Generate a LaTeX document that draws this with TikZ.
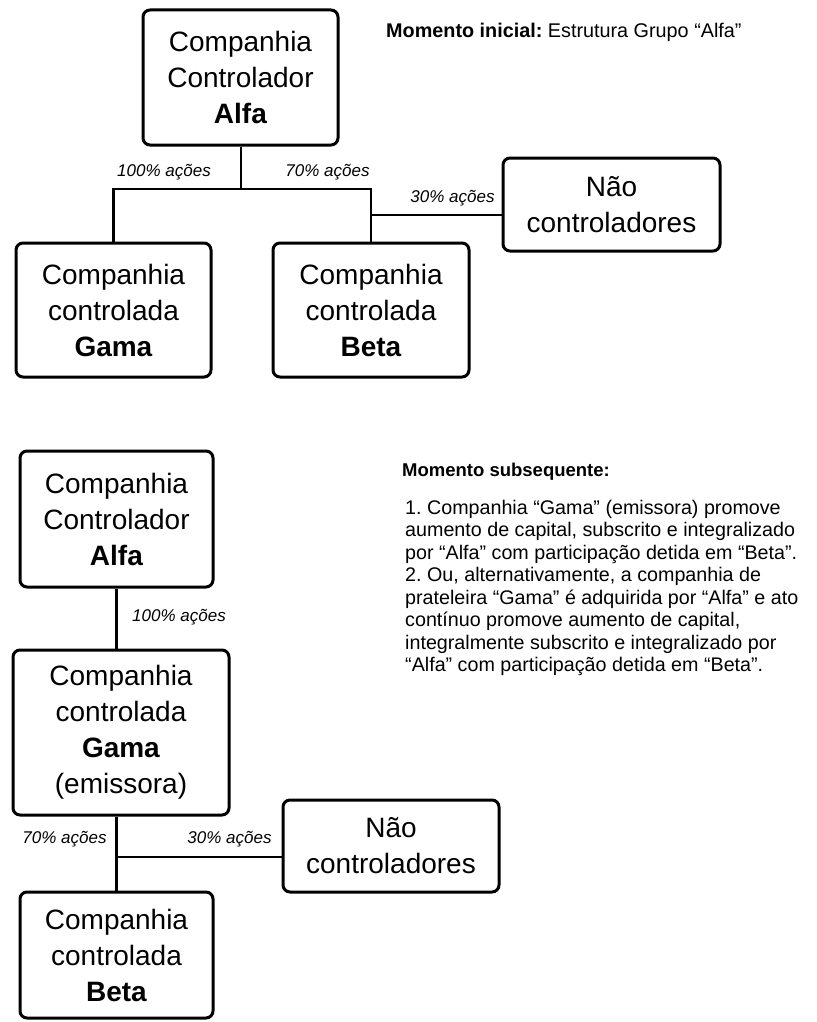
\documentclass[tikz,border=0pt]{standalone}
\usepackage{fontspec}
\setmainfont{Liberation Sans}
\frenchspacing
\begin{document}
\begin{tikzpicture}[x=1pt,y=-1pt,
  box/.style={draw, line width=3pt, rounded corners=7pt, align=center,
    font=\fontsize{28}{36}\selectfont, inner sep=0pt},
  link/.style={line width=2.6pt},
  pct/.style={font=\fontsize{17}{20}\selectfont\itshape, inner sep=0pt},
  note/.style={inner sep=0pt, align=left, font=\fontsize{19.7}{22.5}\selectfont}]
\useasboundingbox (0,0) rectangle (816,1022);
\fill[white] (0,0) rectangle (816,1022);

% ---- Momento inicial ----
\node[box, minimum width=195pt, minimum height=135pt] (A1) at (240.5,77.5) {Companhia\\Controlador\\\textbf{Alfa}};
\node[box, minimum width=195pt, minimum height=134pt] (G1) at (113.5,310) {Companhia\\controlada\\\textbf{Gama}};
\node[box, minimum width=196pt, minimum height=134pt] (B1) at (371,310) {Companhia\\controlada\\\textbf{Beta}};
\node[box, minimum width=217pt, minimum height=93pt] (N1) at (611.5,204.5) {Não\\controladores};

\coordinate (J1) at (241,189);
\coordinate (J2) at (371,215);
\draw[link] (J1 |- A1.south) -- (J1);
\draw[link] (G1.north) |- (J1) -| (B1.north);
\draw[link] (J2) -- (J2 -| N1.west);

\node[pct] (p1) at (164,172) {100\% ações};
\node[pct] (p2) at (327.5,172) {70\% ações};
\node[pct] (p3) at (452.5,198.5) {30\% ações};

\node[anchor=west, inner sep=0pt, font=\fontsize{19.8}{22}\selectfont] (t1) at (386,32) {\textbf{Momento inicial:} Estrutura Grupo “Alfa”};

% ---- Momento subsequente ----
\node[box, minimum width=193pt, minimum height=136pt] (A2) at (116.5,519) {Companhia\\Controlador\\\textbf{Alfa}};
\node[box, minimum width=216pt, minimum height=165pt] (G2) at (121,732.5) {Companhia\\controlada\\\textbf{Gama}\\(emissora)};
\node[box, minimum width=216pt, minimum height=92pt] (N2) at (391,846) {Não\\controladores};
\node[box, minimum width=193pt, minimum height=126pt] (B2) at (116.5,955) {Companhia\\controlada\\\textbf{Beta}};

\coordinate (J3) at (117,857);
\draw[link] (A2.south) -- (A2.south |- G2.north);
\draw[link] (A2.south |- G2.south) -- (B2.north);
\draw[link] (J3) -- (J3 -| N2.west);

\node[pct] (p4) at (179,617) {100\% ações};
\node[pct] (p5) at (64.5,839) {70\% ações};
\node[pct] (p6) at (229.5,839) {30\% ações};

\node[anchor=west, inner sep=0pt, font=\fontsize{18.5}{20}\selectfont\bfseries] (t2) at (402,472) {Momento subsequente:};
\node[note, anchor=north west] (t3) at (405,500) {1. Companhia “Gama” (emissora) promove\\
aumento de capital, subscrito e integralizado\\
por “Alfa” com participação detida em “Beta”.\\
2. Ou, alternativamente, a companhia de\\
prateleira “Gama” é adquirida por “Alfa” e ato\\
contínuo promove aumento de capital,\\
integralmente subscrito e integralizado por\\
“Alfa” com participação detida em “Beta”.};
\end{tikzpicture}
\end{document}
